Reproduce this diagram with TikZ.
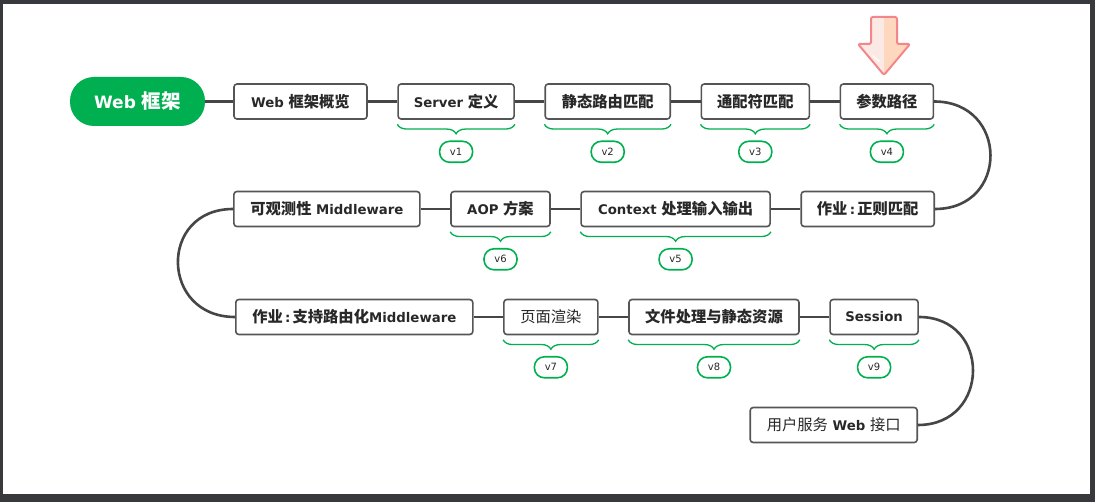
\documentclass[tikz,border=0pt]{standalone}
\usepackage{fontspec}
\setmainfont{DejaVu Sans}
\newfontfamily\cjk{Noto Sans CJK SC}[Scale=1.15]
\newcommand{\han}[1]{{\cjk #1}}
\usetikzlibrary{positioning,decorations.pathreplacing}
\definecolor{mindgreen}{RGB}{0,176,80}
\definecolor{boxgray}{RGB}{85,85,85}
\definecolor{linegray}{RGB}{70,70,70}
\definecolor{textgray}{RGB}{40,40,40}
\definecolor{framegray}{RGB}{56,57,61}
\definecolor{peach}{RGB}{253,216,190}
\definecolor{blush}{RGB}{250,233,228}
\definecolor{arrowred}{RGB}{244,134,138}

\begin{document}
\begin{tikzpicture}[x=1pt,y=-1pt,node distance=29.5pt,
   box/.style={draw=boxgray,line width=1.6pt,rounded corners=3pt,minimum height=35pt,inner xsep=4pt,text=textgray,font=\fontsize{13.3}{15}\selectfont\bfseries},
   root/.style={fill=mindgreen,rounded corners=24pt,minimum width=135pt,minimum height=49pt,text=white,font=\fontsize{17}{20}\selectfont\bfseries},
   link/.style={draw=linegray,line width=2.6pt},
   vtag/.style={draw=mindgreen,line width=1.6pt,rounded corners=10pt,minimum width=33pt,minimum height=21pt,inner sep=0pt,text=textgray,font=\fontsize{10}{12}\selectfont},
   group/.style={draw=mindgreen,line width=1.3pt,decorate,decoration={brace,mirror,amplitude=9.5pt}}]
   \fill[framegray] (0,0) rectangle (1095,502);
   \fill[white] (3,4) rectangle (1090,494);

   \node[root] (t_0) at (137.5,101.5) {Web \han{框架}};
   \node[box,minimum width=133pt,right=28pt of t_0] (t_1) {Web \han{框架概览}};
   \node[box,minimum width=116pt,right=of t_1] (t_2) {Server \han{定义}};
   \node[box,minimum width=125pt,right=of t_2] (t_3) {\han{静态路由匹配}};
   \node[box,minimum width=108pt,right=of t_3] (t_4) {\han{通配符匹配}};
   \node[box,minimum width=93pt,right=of t_4] (t_5) {\han{参数路径}};

   \node[box,minimum width=133pt,anchor=east] (t_6) at (935,209) {\han{作业}\,:\,\han{正则匹配}};
   \node[box,minimum width=189pt,left=of t_6] (t_7) {Context \han{处理输入输出}};
   \node[box,minimum width=99pt,left=of t_7] (t_8) {AOP \han{方案}};
   \node[box,minimum width=186pt,left=of t_8] (t_9) {\han{可观测性} Middleware};

   \node[box,minimum width=237pt,anchor=west] (t_10) at (235,317) {\han{作业}\,:\,\han{支持路由化}Middleware};
   \node[box,minimum width=94pt,right=of t_10] (t_11) {{\mdseries\han{页面渲染}}};
   \node[box,minimum width=170pt,right=of t_11] (t_12) {\han{文件处理与静态资源}};
   \node[box,minimum width=88pt,right=of t_12] (t_13) {Session};

   \node[box,minimum width=167pt,anchor=east] (t_14) at (918,425) {{\mdseries\han{用户服务}} Web {\mdseries\han{接口}}};

   \path[link]
   (t_0) edge (t_1)
   (t_1) edge (t_2)
   (t_2) edge (t_3)
   (t_3) edge (t_4)
   (t_4) edge (t_5)
   (t_5) edge [out=0,in=0,looseness=1.77] (t_6)
   (t_6) edge (t_7)
   (t_7) edge (t_8)
   (t_8) edge (t_9)
   (t_9) edge [out=180,in=180,looseness=1.77] (t_10)
   (t_10) edge (t_11)
   (t_11) edge (t_12)
   (t_12) edge (t_13)
   (t_13) edge [out=0,in=0,looseness=1.72] (t_14);

   \foreach \n/\v in {t_2/v1,t_3/v2,t_4/v3,t_5/v4,t_7/v5,t_8/v6,t_11/v7,t_12/v8,t_13/v9}{
      \draw[group] ([yshift=-4.5pt]\n.south west) -- ([yshift=-4.5pt]\n.south east);
      \node[vtag] (\v) at ([yshift=-32pt]\n.south) {\v};
   }

   \begin{scope}
      \clip[rounded corners=2pt] (871,17) -- (897,17) -- (897,44) -- (910,44) -- (884,75) -- (858,44) -- (871,44) -- cycle;
      \fill[peach] (850,10) rectangle (915,80);
      \fill[blush] (850,10) rectangle (884,80);
   \end{scope}
   \draw[arrowred,line width=2pt,rounded corners=2pt,line join=round] (871,17) -- (897,17) -- (897,44) -- (910,44) -- (884,75) -- (858,44) -- (871,44) -- cycle;
   \draw[white,line width=1.5pt,line cap=round] (873,56) -- (879,61);
\end{tikzpicture}
\end{document}
